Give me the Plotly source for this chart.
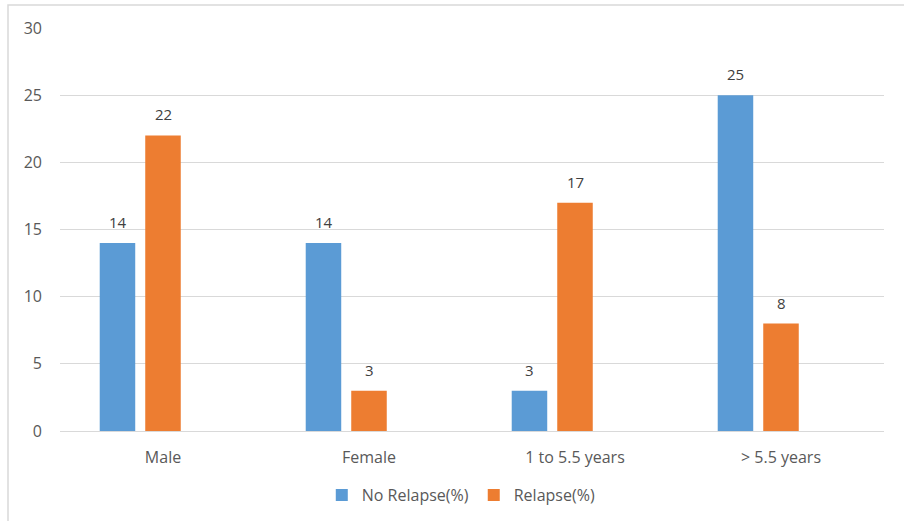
import plotly.graph_objects as go

categories = ["Male", "Female", "1 to 5.5 years", "> 5.5 years"]
no_relapse = [14, 14, 3, 25]
relapse = [22, 3, 17, 8]
series_names = ["No Relapse(%)", "Relapse(%)"]
y_ticks = [0, 5, 10, 15, 20, 25, 30]

blue = "#5B9BD5"
orange = "#ED7D31"
font_color = "#595959"
font_family = "Open Sans, Liberation Sans, sans-serif"

fig = go.Figure()
fig.add_trace(go.Bar(x=categories, y=no_relapse, name=series_names[0],
                     marker=dict(color=blue, line=dict(width=0))))
fig.add_trace(go.Bar(x=categories, y=relapse, name=series_names[1],
                     marker=dict(color=orange, line=dict(width=0))))
# empty third slot (as in original Excel grouping)
fig.add_trace(go.Bar(x=categories, y=[None] * len(categories), showlegend=False,
                     hoverinfo="skip", marker=dict(color="rgba(0,0,0,0)")))

annotations = []
for cat, v in zip(categories, no_relapse):
    annotations.append(dict(x=cat, y=v, text=str(v), showarrow=False, xref="x", yref="y",
                            xshift=-45.5, yshift=9, yanchor="bottom",
                            font=dict(size=15, color="#404040", family=font_family)))
for cat, v in zip(categories, relapse):
    annotations.append(dict(x=cat, y=v, text=str(v), showarrow=False, xref="x", yref="y",
                            xshift=0, yshift=9, yanchor="bottom",
                            font=dict(size=15, color="#404040", family=font_family)))

fig.update_layout(
    width=904, height=521,
    margin=dict(l=60, r=20, t=28, b=90, autoexpand=False),
    paper_bgcolor="white", plot_bgcolor="white",
    barmode="group", bargap=0.337, bargroupgap=0.22,
    font=dict(family=font_family, size=16, color=font_color),
    annotations=annotations,
    showlegend=True,
    legend=dict(orientation="h", x=0.487, xanchor="center",
                yref="container", y=(521 - 495) / 521, yanchor="middle",
                font=dict(size=16, color=font_color), itemwidth=30, traceorder="normal"),
    shapes=[dict(type="rect", xref="paper", yref="paper",
                 x0=(8 - 60) / 824, x1=(910 - 60) / 824,
                 y0=(431 - 530) / 403, y1=(431 - 5) / 403,
                 line=dict(color="#D9D9D9", width=1.5), fillcolor="rgba(0,0,0,0)", layer="below")],
)
fig.update_xaxes(showgrid=False, showline=True, linecolor="#D9D9D9", linewidth=1,
                 ticks="", tickfont=dict(size=16, color=font_color), ticklabelstandoff=12,
                 automargin=False)
fig.update_yaxes(range=[0, 30], tickvals=y_ticks, showgrid=True, gridcolor="#D9D9D9",
                 gridwidth=1, zeroline=False, showline=False, ticks="",
                 tickfont=dict(size=16, color=font_color), ticklabelstandoff=17,
                 automargin=False)

fig.write_html("out.html")
